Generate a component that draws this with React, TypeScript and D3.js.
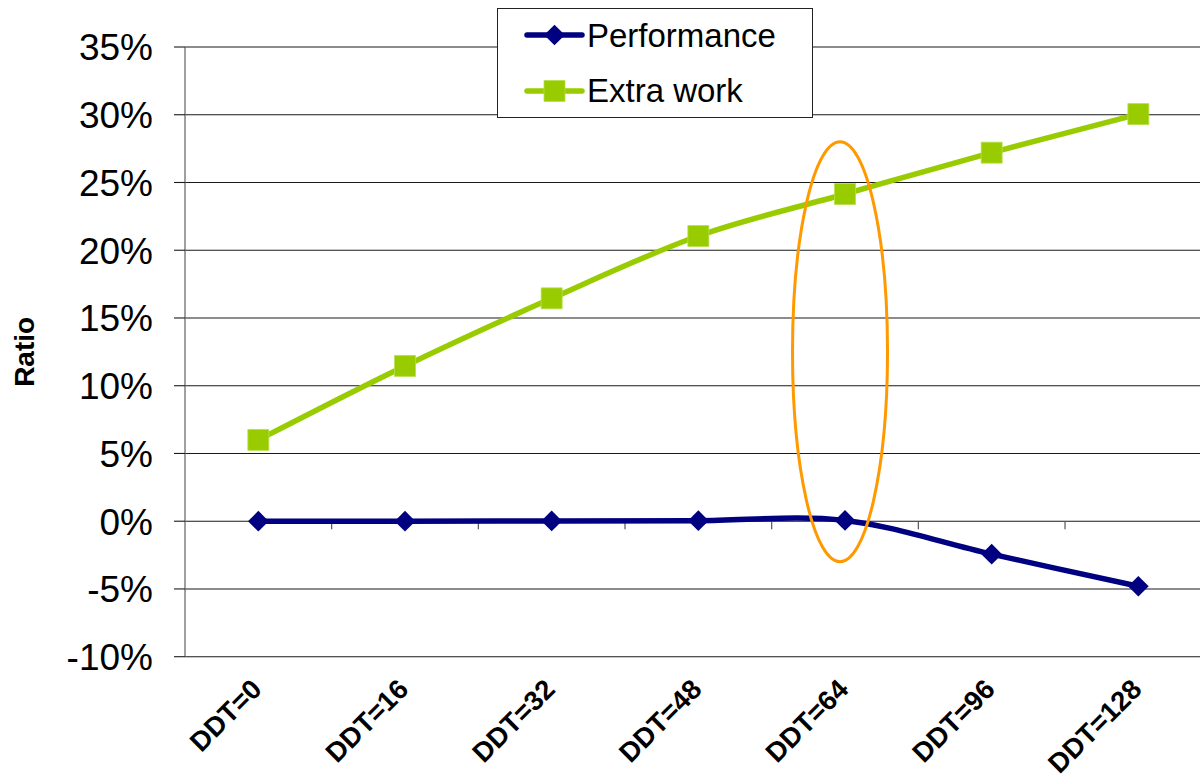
import React from "react";
import * as d3 from "d3";

// DDT settings along the horizontal axis
const categories = ["DDT=0", "DDT=16", "DDT=32", "DDT=48", "DDT=64", "DDT=96", "DDT=128"];
// Performance change relative to DDT=0
const performance = [0.0, 0.0, 0.0002, 0.0004, 0.0006, -0.0243, -0.048];
// Extra work ratio
const extraWork = [0.06, 0.1146, 0.1645, 0.2105, 0.2415, 0.272, 0.3005];
// Y-axis tick values
const yTicks = [-0.1, -0.05, 0, 0.05, 0.1, 0.15, 0.2, 0.25, 0.3, 0.35];
// Highlighted range around DDT=64 (in ratio units)
const highlightRange = [-0.03, 0.28];

const W = 1200;
const H = 782;
const FONT = "Arial, 'Liberation Sans', Helvetica, sans-serif";
const NAVY = "#000080";
const GREEN = "#99CC00";

export default function App() {
  const left = 185;
  const top = 47;
  const bottom = 656.7;
  const band = 146.67;
  const x = d3
    .scalePoint<string>()
    .domain(categories)
    .range([left, left + band * categories.length])
    .padding(0.5);
  const y = d3.scaleLinear().domain([-0.1, 0.35]).range([bottom, top]);

  const curve = d3.curveCardinal.tension(0);
  const lineGen = d3
    .line<number>()
    .x((_, i) => x(categories[i]) as number)
    .y((d) => y(d))
    .curve(curve);

  const diamond = d3.symbol().type(d3.symbolSquare).size(215)() as string;
  const square = d3.symbol().type(d3.symbolSquare).size(440)() as string;

  const fmt = (v: number) => `${Math.round(v * 100)}%`;
  const y0 = y(0);

  // highlight ellipse around DDT=64
  const ex = (x("DDT=64") as number) - 5;
  const eTop = y(highlightRange[1]);
  const eBot = y(highlightRange[0]);

  return (
    <svg
      width={W}
      height={H}
      style={{ position: "absolute", left: 0, top: 0, background: "#fff" }}
      fontFamily={FONT}
    >
      {/* horizontal gridlines */}
      {yTicks.map((t) => (
        <line key={`g${t}`} x1={left} x2={W} y1={y(t)} y2={y(t)} stroke="#1a1a1a" strokeWidth={1.1} />
      ))}
      {/* y-axis and its ticks */}
      <line x1={left} x2={left} y1={top} y2={bottom} stroke="#6e6e6e" strokeWidth={1.3} />
      {yTicks.map((t) => (
        <g key={`t${t}`}>
          <line x1={left - 11} x2={left} y1={y(t)} y2={y(t)} stroke="#1a1a1a" strokeWidth={1.1} />
          <text x={153} y={y(t) + 13.3} textAnchor="end" fontSize={37} fill="#000">
            {fmt(t)}
          </text>
        </g>
      ))}
      {/* category ticks along the zero line */}
      {categories.map((c) => (
        <line
          key={`ct${c}`}
          x1={(x(c) as number) + band / 2}
          x2={(x(c) as number) + band / 2}
          y1={y0}
          y2={y0 + 8}
          stroke="#555"
          strokeWidth={1.2}
        />
      ))}
      {/* category labels */}
      {categories.map((c) => (
        <text
          key={`cl${c}`}
          transform={`translate(${(x(c) as number) + 5},${691}) rotate(-45)`}
          textAnchor="end"
          fontSize={27.5}
          fontWeight="bold"
          fill="#000"
        >
          {c}
        </text>
      ))}
      {/* axis title */}
      <text
        transform={`translate(34,${(top + bottom) / 2}) rotate(-90)`}
        textAnchor="middle"
        fontSize={28}
        fontWeight="bold"
        fill="#000"
      >
        Ratio
      </text>

      {/* series lines */}
      <path d={lineGen(extraWork) as string} fill="none" stroke={GREEN} strokeWidth={5.5} />
      <path d={lineGen(performance) as string} fill="none" stroke={NAVY} strokeWidth={5.5} />
      {extraWork.map((v, i) => (
        <path
          key={`s${i}`}
          d={square}
          transform={`translate(${x(categories[i])},${y(v)})`}
          fill={GREEN}
          stroke="#b5e04a"
          strokeWidth={0.8}
        />
      ))}
      {performance.map((v, i) => (
        <path
          key={`d${i}`}
          d={diamond}
          transform={`translate(${x(categories[i])},${y(v)}) rotate(45)`}
          fill={NAVY}
        />
      ))}

      {/* highlight ellipse */}
      <ellipse
        cx={ex}
        cy={(eTop + eBot) / 2}
        rx={47.5}
        ry={(eBot - eTop) / 2}
        fill="none"
        stroke="#FF9900"
        strokeWidth={3}
      />

      {/* legend */}
      <g>
        <rect x={497.5} y={8.5} width={315} height={109} fill="#fff" stroke="#222" strokeWidth={1} />
        <line x1={527} x2={582} y1={35} y2={35} stroke={NAVY} strokeWidth={5.5} strokeLinecap="round" />
        <path d={diamond} transform="translate(554.5,35) rotate(45)" fill={NAVY} />
        <text x={587} y={47} fontSize={33} fill="#000">
          Performance
        </text>
        <line x1={527} x2={582} y1={91} y2={91} stroke={GREEN} strokeWidth={5.5} strokeLinecap="round" />
        <path d={square} transform="translate(554.5,91)" fill={GREEN} stroke="#b5e04a" strokeWidth={0.8} />
        <text x={587} y={102} fontSize={33} fill="#000">
          Extra work
        </text>
      </g>
    </svg>
  );
}
